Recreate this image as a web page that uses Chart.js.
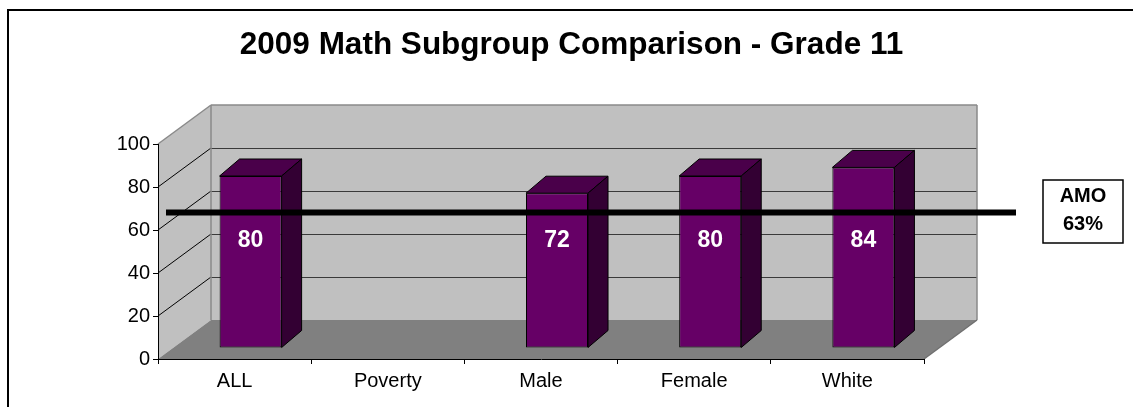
<!DOCTYPE html>
<html>
<head>
<meta charset="utf-8">
<script src="https://cdn.jsdelivr.net/npm/chart.js@4/dist/chart.umd.min.js"></script>
<style>
  html, body { margin: 0; padding: 0; background: #fff; }
  #wrap { width: 1133px; height: 407px; }
</style>
</head>
<body>
<div id="wrap"><canvas id="c"></canvas></div>
<script>
// ---------- data ----------
const categories = ['ALL', 'Poverty', 'Male', 'Female', 'White'];
const scores = [80, null, 72, 80, 84];
const yTicks = [0, 20, 40, 60, 80, 100];
const amoTarget = [63];
const titleText = '2009 Math Subgroup Comparison - Grade 11';

const FONT = "Arial, 'Liberation Sans', sans-serif";
const WALL = { dx: 53, dy: -39 };          // depth of the back wall
const BAR = { dx: 16, dy: -11, sx: 20, sy: -17 }; // bar front offset + bar depth

const line = (ctx, x1, y1, x2, y2, color, lw) => {
  ctx.beginPath(); ctx.moveTo(x1, y1); ctx.lineTo(x2, y2);
  ctx.strokeStyle = color; ctx.lineWidth = lw || 1; ctx.stroke();
};
const poly = (ctx, pts, fill, stroke, lw) => {
  ctx.beginPath();
  pts.forEach(([x, y], i) => i ? ctx.lineTo(x, y) : ctx.moveTo(x, y));
  ctx.closePath();
  if (fill) { ctx.fillStyle = fill; ctx.fill(); }
  if (stroke) { ctx.strokeStyle = stroke; ctx.lineWidth = lw || 1; ctx.stroke(); }
};

// walls, floor, 3d bar faces, AMO line
const box3d = {
  id: 'box3d',
  beforeDraw(chart) {
    const { ctx, width, height } = chart;
    const xs = chart.scales.x, ys = chart.scales.y;
    const L = xs.left, R = xs.right;
    const y0 = ys.getPixelForValue(yTicks[0]), yT = ys.getPixelForValue(yTicks.at(-1));
    const dx = WALL.dx, dy = WALL.dy;
    ctx.save();
    ctx.fillStyle = '#fff'; ctx.fillRect(0, 0, width, height);
    ctx.strokeStyle = '#000'; ctx.lineWidth = 2;
    ctx.strokeRect(8, 10, width + 20, height + 20);

    poly(ctx, [[L, yT], [L + dx, yT + dy], [L + dx, y0 + dy], [L, y0]], '#c0c0c0');
    poly(ctx, [[L + dx, yT + dy], [R + dx, yT + dy], [R + dx, y0 + dy], [L + dx, y0 + dy]], '#c0c0c0');
    yTicks.slice(1, -1).forEach(v => {
      const y = ys.getPixelForValue(v);
      line(ctx, L + dx, Math.round(y + dy) + 0.5, R + dx, Math.round(y + dy) + 0.5, '#3a3a3a', 1);
      line(ctx, L, y, L + dx, y + dy, '#000', 1);
    });
    poly(ctx, [[L, y0], [L + dx, y0 + dy], [R + dx, y0 + dy], [R, y0]], '#808080');
    // wall edges
    const g = '#8a8a8a';
    line(ctx, L, yT, L + dx, yT + dy, g, 1.5);
    line(ctx, L + dx, yT + dy, R + dx, yT + dy, g, 1.5);
    line(ctx, L + dx, yT + dy, L + dx, y0 + dy, g, 1.5);
    line(ctx, R + dx, yT + dy, R + dx, y0 + dy, g, 1.5);
    line(ctx, R, y0, R + dx, y0 + dy, '#707070', 1.5);
    ctx.restore();
  },
  beforeDatasetsDraw(chart) {
    chart.ctx.save();
    chart.ctx.translate(BAR.dx, BAR.dy);
  },
  afterDatasetsDraw(chart) {
    const ctx = chart.ctx;
    const xs = chart.scales.x, ys = chart.scales.y;
    const meta = chart.getDatasetMeta(0);
    meta.data.forEach((bar, i) => {
      if (scores[i] == null) return;
      const { x, y, base, width } = bar.getProps(['x', 'y', 'base', 'width'], true);
      const l = x - width / 2, r = x + width / 2;
      poly(ctx, [[l, y], [r, y], [r + BAR.sx, y + BAR.sy], [l + BAR.sx, y + BAR.sy]], '#4a004a', '#000', 1);
      poly(ctx, [[r, y], [r + BAR.sx, y + BAR.sy], [r + BAR.sx, base + BAR.sy], [r, base]], '#330033', '#000', 1);
    });
    // value labels
    ctx.fillStyle = '#fff';
    ctx.font = 'bold 23px ' + FONT;
    ctx.textAlign = 'center'; ctx.textBaseline = 'middle';
    meta.data.forEach((bar, i) => {
      if (scores[i] == null) return;
      ctx.fillText(String(scores[i]), bar.x, ys.getPixelForValue(50));
    });
    ctx.restore();

    // AMO target line (on the bar plane)
    const ly = ys.getPixelForValue(amoTarget[0]) + BAR.dy;
    line(ctx, xs.left + 8, ly, xs.right + 92, ly, '#000', 6);
    const bx = xs.right + 119, by = Math.round(ly) - 33;
    ctx.fillStyle = '#fff'; ctx.fillRect(bx, by, 80, 63);
    ctx.strokeStyle = '#000'; ctx.lineWidth = 1.5; ctx.strokeRect(bx, by, 80, 63);
    ctx.fillStyle = '#000';
    ctx.font = 'bold 20px ' + FONT;
    ctx.textAlign = 'center'; ctx.textBaseline = 'middle';
    ctx.fillText('AMO', bx + 40, by + 16);
    ctx.fillText(amoTarget[0] + '%', bx + 40, by + 44);
  }
};

Chart.defaults.font.family = FONT;
Chart.defaults.color = '#000';

new Chart(document.getElementById('c'), {
  type: 'bar',
  data: {
    labels: categories,
    datasets: [{
      data: scores,
      backgroundColor: '#660066',
      borderColor: '#000',
      borderWidth: 1,
      borderSkipped: false,
      barPercentage: 0.405,
      categoryPercentage: 1,
      clip: false
    }]
  },
  options: {
    responsive: true,
    maintainAspectRatio: false,
    animation: false,
    events: [],
    layout: { padding: { top: 10, left: 10, right: 0, bottom: 0 } },
    plugins: {
      legend: { display: false },
      tooltip: { enabled: false },
      title: {
        display: true,
        text: titleText,
        color: '#000',
        font: { size: 31.5, weight: 'bold', lineHeight: '36px' },
        padding: { top: 17, bottom: 81 }
      }
    },
    scales: {
      x: {
        grid: { drawOnChartArea: false, drawTicks: true, tickLength: 5, color: '#000' },
        border: { display: true, color: '#000', width: 1 },
        ticks: { font: { size: 20 }, padding: 5, color: '#000' },
        afterFit: s => { s.height = 48; }
      },
      y: {
        min: yTicks[0], max: yTicks.at(-1),
        grid: { drawOnChartArea: false, drawTicks: true, tickLength: 5, color: '#000' },
        border: { display: true, color: '#000', width: 1 },
        ticks: { stepSize: 20, font: { size: 20 }, padding: 3, color: '#000' },
        afterFit: s => { s.width = 148; }
      },
      side: {
        type: 'linear', position: 'right',
        grid: { display: false, drawTicks: false },
        border: { display: false },
        ticks: { display: false },
        afterFit: s => { s.width = 209; }
      }
    }
  },
  plugins: [box3d]
});
</script>
</body>
</html>
